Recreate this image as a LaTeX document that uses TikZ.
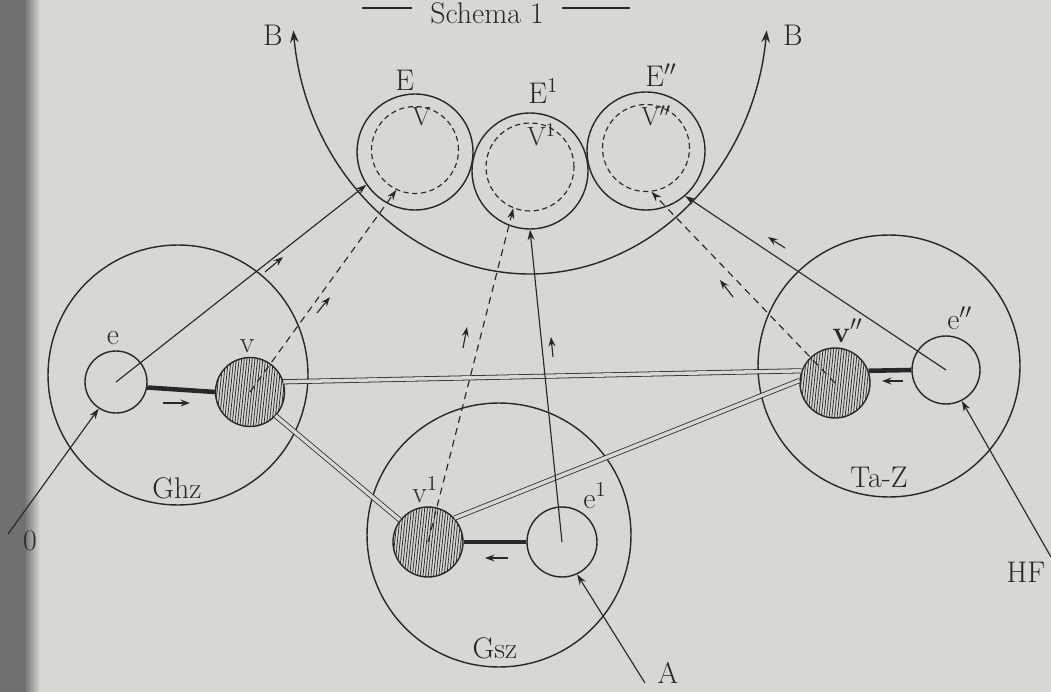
\documentclass[tikz,border=0pt]{standalone}
\usepackage{amsmath}
\usetikzlibrary{arrows.meta,patterns.meta}

\definecolor{paper}{RGB}{215,215,211}
\definecolor{ink}{RGB}{40,40,40}
\definecolor{margin}{RGB}{112,112,112}
\newcommand{\lbl}{\fontsize{17}{20}\selectfont}
\newcommand{\sublbl}{\fontsize{15}{18}\selectfont}

\tikzset{
  shell/.style={circle, draw=ink, line width=0.8pt, inner sep=0pt, minimum size=#1},
  core/.style={shell=#1, pattern={Lines[angle=84,distance=1.5pt,line width=0.45pt]}, pattern color=ink},
  field/.style={circle, draw=ink, dash pattern=on 3pt off 2pt, line width=0.65pt, inner sep=0pt, minimum size=#1},
  link/.style={draw=ink, line width=0.45pt, double=paper, double distance=2pt},
  bar/.style={draw=ink, line width=2.6pt},
  ray/.style={draw=ink, line width=0.65pt, -{Stealth[length=6pt,width=4pt,inset=2pt]}},
  dray/.style={ray, dash pattern=on 4pt off 3pt},
  flowtip/.style={draw=ink, line width=0.65pt, -{Stealth[length=5.5pt,width=4pt,inset=2pt]}},
}

\begin{document}
\begin{tikzpicture}[x=0.02cm, y=-0.02cm, line join=round]
\useasboundingbox (0,0) rectangle (1051,692);
\clip (0,0) rectangle (1051,692);
\fill[paper] (0,0) rectangle (1051,692);
\fill[margin] (0,0) rectangle (24,692);
\shade[left color=margin, right color=paper] (24,0) rectangle (40,692);

% title
\node[anchor=base, text=ink] (title) at (487,24) {\lbl Schema 1};
\draw[ink, line width=0.6pt] (362,8) -- (412,8);
\draw[ink, line width=0.6pt] (562,8) -- (630,8);

% the B bow
\coordinate (Bl) at (293.3,30.4);
\draw[ink, line width=0.8pt, {Stealth[length=7pt,width=5pt,inset=2.5pt]}-{Stealth[length=7pt,width=5pt,inset=2.5pt]}]
  (Bl) arc[start angle=174, end angle=6, x radius=238, y radius=272] coordinate (Br);
\node[anchor=base, text=ink] (BlText) at (273,46) {\lbl B};
\node[anchor=base, text=ink] (BrText) at (793,46) {\lbl B};

% upper circles E, E1, E2 with dashed V fields
\node[shell=2.32cm] (E) at (415,152) {};
\node[shell=2.32cm] (E1) at (530,171) {};
\node[shell=2.36cm] (E2) at (646,151) {};
\node[field=1.74cm] (VE) at (415,150) {};
\node[field=1.76cm] (VE1) at (530,167) {};
\node[field=1.74cm] (VE2) at (646,148) {};
\node[anchor=base west, text=ink, inner sep=0pt] (EText) at (395,91) {\lbl E};
\node[anchor=base west, text=ink, inner sep=0pt] (E1Text) at (528,104) {\lbl E$^{1}$};
\node[anchor=base west, text=ink, inner sep=0pt] (E2Text) at (645,87) {\lbl E$''$};
\node[anchor=base west, text=ink, inner sep=0pt] (VText) at (412,126) {\sublbl V};
\node[anchor=base west, text=ink, inner sep=0pt] (V1Text) at (527,146) {\sublbl V$^{1}$};
\node[anchor=base west, text=ink, inner sep=0pt] (V2Text) at (641,126) {\sublbl V$''$};

% large circles
\node[shell=5.2cm] (Ghz) at (178,375) {};
\node[shell=5.28cm] (Gsz) at (499,535) {};
\node[shell=5.24cm] (TaZ) at (889,366) {};
\node[anchor=base, text=ink] (GhzText) at (177,498) {\lbl Ghz};
\node[anchor=base, text=ink] (GszText) at (495,658) {\lbl Gsz};
\node[anchor=base, text=ink] (TaZText) at (879,487) {\lbl Ta-Z};

% small circles
\node[shell=1.24cm] (e) at (116,382) {};
\node[core=1.38cm] (v) at (250,392) {};
\node[core=1.4cm] (v1) at (428,542) {};
\node[shell=1.4cm] (e1) at (562,542) {};
\node[core=1.4cm] (v2) at (835,383) {};
\node[shell=1.36cm] (e2) at (946,370) {};
\node[anchor=base, text=ink] (eText) at (113,345) {\lbl e};
\node[anchor=base, text=ink] (vText) at (247,353) {\lbl v};
\node[anchor=base west, text=ink, inner sep=0pt] (v1Text) at (412,502) {\lbl v$^{1}$};
\node[anchor=base west, text=ink, inner sep=0pt] (e1Text) at (583,508) {\lbl e$^{1}$};
\node[anchor=base west, text=ink, inner sep=0pt] (v2Text) at (832,342) {\lbl \textbf{v}$''$};
\node[anchor=base west, text=ink, inner sep=0pt] (e2Text) at (947,330) {\lbl e$''$};

% bars
\draw[bar] (e.-10) -- (v.west);
\draw[bar] (v1.east) -- (e1.west);
\draw[bar] (v2.20) -- (e2.west);

% double links
\draw[link] (v.17) -- (v2.160);
\draw[link] (v.317) -- (v1.142);
\draw[link] (v1.42) -- (v2.176);

% rays to the upper circles
\draw[ray] (e.center) -- (E.214);
\draw[dray] (v.center) -- (VE.245);
\draw[dray] (v1.center) -- (VE1.248);
\draw[ray] (e1.center) -- (E1.270);
\draw[dray] (v2.center) -- (VE2.277);
\draw[ray] (e2.center) -- (E2.311);

% inputs
\coordinate (zero) at (8,534);
\coordinate (ain) at (645,683);
\coordinate (hfin) at (1051,557);
\draw[ray] (zero) -- (e.237);
\draw[ray] (ain) -- (e1.295);
\draw[ray] (hfin) -- (e2.297);
\node[anchor=base, text=ink] (zeroText) at (30,550) {\lbl 0};
\node[anchor=base, text=ink] (aText) at (668,683) {\lbl A};
\node[anchor=base, text=ink] (hfText) at (1026,582) {\lbl HF};

% direction marks
\draw[flowtip] (265,272) -- (283,257);
\draw[flowtip] (317,313) -- (330,297);
\draw[flowtip] (463,348) -- (467,327);
\draw[flowtip] (553,357) -- (551,337);
\draw[flowtip] (733,297) -- (720,280);
\draw[flowtip] (785,248) -- (768,237);
\draw[flowtip] (163,403) -- (190,403);
\draw[flowtip] (508,558) -- (485,558);
\draw[flowtip] (903,381) -- (882,381);
\end{tikzpicture}
\end{document}
